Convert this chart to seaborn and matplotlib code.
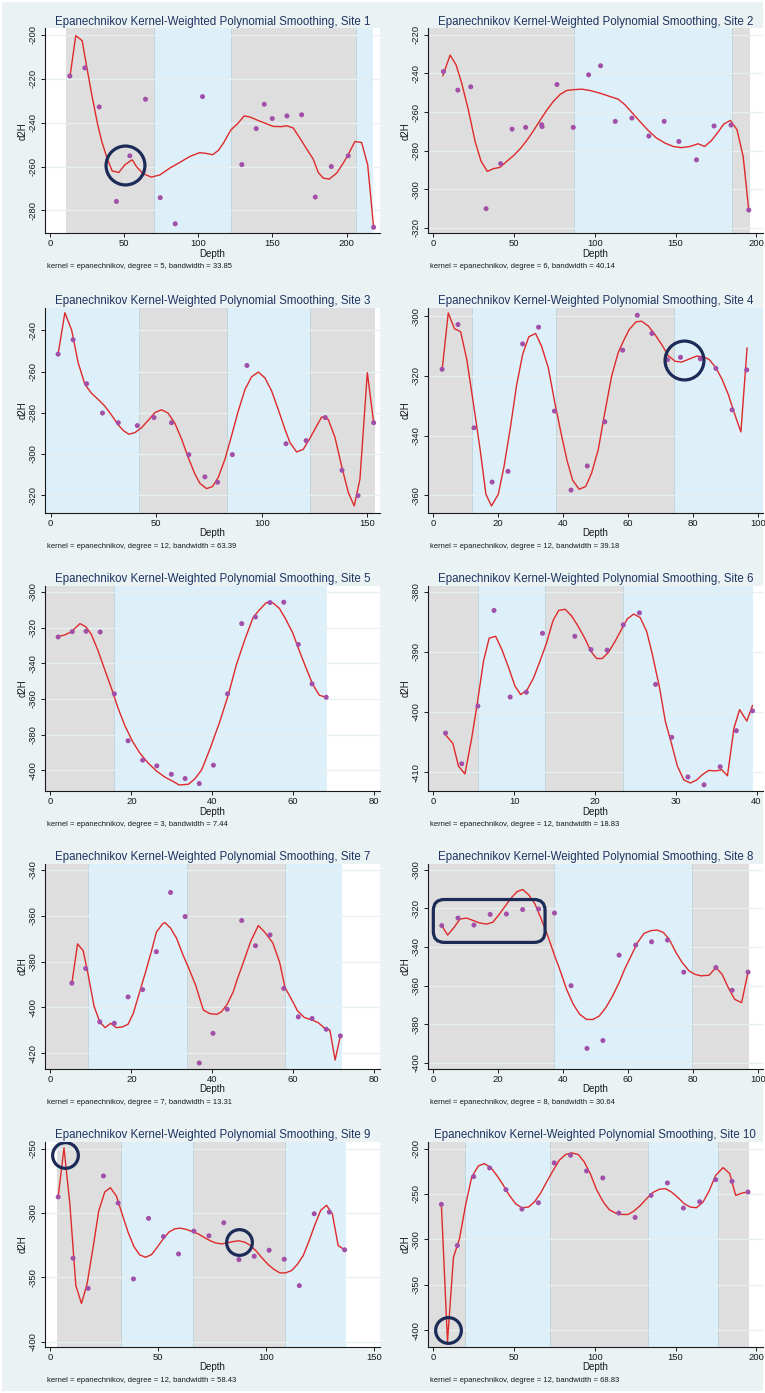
import matplotlib
matplotlib.use("Agg")
import matplotlib.pyplot as plt
import seaborn as sns
from matplotlib.patches import Rectangle, FancyBboxPatch

# ---------------------------------------------------------------- data
TITLE = "Epanechnikov Kernel-Weighted Polynomial Smoothing, Site {}"

# Site 1
S1_X = [13.5, 23.6, 33.3, 44.9, 53.9, 64.5, 74.4, 84.5, 102.9, 129.4, 139.1, 144.5, 149.9, 159.8, 169.7, 178.9, 189.7, 201.1, 218.2]
S1_Y = [-218.7, -215.0, -232.8, -275.9, -255.1, -229.3, -274.2, -286.1, -228.1, -259.1, -242.7, -231.6, -238.1, -236.9, -236.4, -273.9, -260.0, -255.1, -287.7]
S1_FIT_X = [13.5, 17.5, 21.8, 25.0, 28.5, 32.0, 35.0, 38.5, 42.0, 46.5, 50.6, 55.5, 58.4, 62.9, 68.5, 74.2, 80.9, 87.6, 94.4, 100.7, 104.5, 109.7, 113.5, 117.3, 122.0, 126.5, 131.0, 134.8, 140.4, 146.1, 150.6, 156.2, 159.6, 164.0, 168.5, 173.0, 177.5, 180.9, 184.3, 188.3, 193.3, 197.8, 202.2, 205.6, 210.1, 214.2, 218.2]
S1_FIT_Y = [-219.5, -200.3, -202.6, -215.0, -228.0, -240.0, -248.5, -256.0, -262.0, -262.7, -259.2, -256.9, -260.0, -263.3, -264.8, -263.8, -260.7, -258.1, -255.4, -253.7, -253.9, -254.6, -252.7, -249.0, -243.3, -240.5, -236.9, -237.4, -239.0, -240.5, -241.7, -241.8, -241.4, -242.4, -247.0, -251.9, -256.6, -262.7, -265.3, -265.7, -263.0, -258.4, -253.1, -248.6, -249.0, -259.2, -287.7]
S1_BANDS = [11.2, 70.2, 121.9, 206.5, 217.6]
S1_FIRST = "gray"
S1_CAPTION = "kernel = epanechnikov, degree = 5, bandwidth = 33.85"

# Site 2
S2_X = [6.2, 15.1, 23.1, 32.6, 41.6, 48.7, 57.1, 67.0, 67.3, 76.5, 86.6, 96.1, 103.5, 112.6, 122.9, 133.4, 142.9, 152.0, 162.9, 173.8, 184.3, 195.3]
S2_Y = [-239.0, -248.6, -246.9, -310.0, -286.7, -268.8, -267.9, -266.5, -267.5, -245.7, -267.9, -240.7, -236.0, -264.8, -263.1, -272.4, -264.8, -275.2, -284.7, -267.2, -266.7, -310.7]
S2_FIT_X = [5.8, 10.3, 14.0, 17.5, 21.6, 25.8, 29.5, 33.4, 37.1, 41.2, 45.4, 49.5, 53.6, 57.7, 61.9, 66.0, 70.1, 74.2, 78.4, 82.5, 86.6, 91.8, 96.9, 103.1, 109.3, 114.4, 118.6, 122.7, 127.8, 133.0, 138.1, 143.3, 148.5, 153.6, 158.8, 163.9, 168.0, 172.2, 176.3, 179.8, 183.9, 188.0, 191.8, 195.3]
S2_FIT_Y = [-241.2, -230.5, -235.5, -245.0, -258.8, -275.2, -285.5, -290.7, -289.3, -288.6, -285.5, -282.6, -279.1, -274.8, -269.7, -264.3, -259.1, -254.5, -250.9, -248.8, -248.4, -248.1, -248.8, -250.2, -251.9, -253.3, -256.2, -260.0, -264.8, -269.5, -273.4, -276.0, -277.8, -278.4, -277.8, -276.4, -277.8, -274.7, -270.3, -266.2, -264.3, -269.1, -282.9, -310.9]
S2_BANDS = [-3.5, 86.8, 185.0, 195.9]
S2_FIRST = "gray"
S2_CAPTION = "kernel = epanechnikov, degree = 6, bandwidth = 40.14"

# Site 3
S3_X = [3.6, 10.7, 17.1, 24.6, 32.1, 41.1, 49.0, 57.3, 65.5, 73.1, 79.1, 86.1, 93.0, 111.5, 121.0, 130.1, 138.0, 145.6, 153.0]
S3_Y = [-251.5, -244.5, -265.9, -280.1, -284.8, -286.2, -282.3, -284.8, -300.3, -311.1, -313.7, -300.3, -257.0, -295.0, -293.5, -282.3, -307.9, -320.2, -284.8]
S3_FIT_X = [3.6, 6.8, 10.0, 13.1, 16.3, 19.4, 22.6, 25.7, 28.9, 32.1, 34.7, 37.1, 40.0, 43.1, 46.3, 49.4, 52.6, 55.7, 58.9, 62.1, 65.2, 68.4, 70.7, 73.9, 76.7, 79.4, 82.6, 85.7, 88.9, 92.1, 95.2, 98.4, 101.5, 104.7, 107.8, 111.0, 113.4, 116.5, 119.7, 122.8, 126.0, 128.4, 131.5, 134.7, 137.8, 141.0, 143.8, 146.5, 150.0, 153.0]
S3_FIT_Y = [-251.5, -231.4, -239.8, -255.7, -266.2, -270.5, -273.5, -276.7, -281.1, -285.9, -288.8, -290.4, -289.6, -287.2, -283.6, -279.9, -278.5, -280.2, -285.1, -292.8, -301.7, -309.8, -314.2, -316.8, -315.8, -311.4, -302.5, -291.2, -279.1, -268.6, -262.5, -260.2, -263.0, -269.4, -278.3, -288.0, -294.5, -299.0, -297.7, -292.4, -286.4, -282.0, -283.2, -292.0, -305.8, -318.7, -325.2, -312.2, -260.5, -284.8]
S3_BANDS = [-2.7, 42.0, 83.4, 122.8, 153.6]
S3_FIRST = "blue"
S3_CAPTION = "kernel = epanechnikov, degree = 12, bandwidth = 63.39"

# Site 4
S4_X = [2.7, 7.6, 12.5, 18.1, 23.0, 27.5, 32.4, 37.3, 42.4, 47.4, 52.8, 58.3, 62.8, 67.3, 72.1, 76.1, 82.2, 87.0, 92.0, 96.5]
S4_Y = [-317.8, -302.8, -337.4, -355.6, -352.0, -309.3, -303.7, -331.8, -358.3, -350.2, -335.4, -311.4, -299.7, -305.8, -314.6, -313.8, -314.3, -317.5, -331.4, -318.0]
S4_FIT_X = [2.7, 4.6, 6.5, 8.4, 10.3, 12.3, 14.4, 16.2, 17.9, 20.0, 21.8, 23.8, 25.6, 27.5, 29.4, 31.5, 33.3, 35.4, 37.4, 39.5, 41.2, 42.9, 44.9, 46.9, 48.7, 50.8, 52.8, 54.9, 56.9, 58.5, 60.3, 62.4, 64.1, 66.2, 68.2, 70.3, 72.3, 74.4, 76.4, 78.5, 81.0, 83.1, 84.9, 87.0, 88.9, 90.8, 92.8, 94.7, 96.6]
S4_FIT_Y = [-318.1, -298.9, -304.2, -305.2, -314.5, -329.0, -344.6, -359.7, -363.6, -359.7, -350.2, -336.8, -323.4, -312.8, -306.9, -305.8, -310.0, -317.3, -329.0, -340.1, -348.5, -355.0, -358.0, -357.1, -352.7, -344.6, -332.3, -320.1, -312.3, -308.4, -304.5, -301.9, -301.7, -303.3, -306.1, -309.5, -313.2, -315.1, -315.4, -314.5, -313.4, -313.6, -314.5, -317.3, -321.2, -326.2, -332.9, -338.8, -310.6]
S4_BANDS = [-1.7, 12.0, 37.8, 74.2, 101.5]
S4_FIRST = "gray"
S4_CAPTION = "kernel = epanechnikov, degree = 12, bandwidth = 39.18"

# Site 5
S5_X = [1.9, 5.4, 8.8, 12.3, 15.8, 19.2, 22.8, 26.3, 29.9, 33.3, 36.8, 40.3, 43.8, 47.3, 50.7, 54.3, 57.7, 61.3, 64.7, 68.2]
S5_Y = [-325.3, -322.3, -322.1, -322.5, -357.2, -383.5, -394.4, -397.6, -402.3, -404.7, -407.5, -397.2, -357.2, -317.8, -314.1, -306.0, -305.8, -329.5, -351.6, -359.1]
S5_FIT_X = [1.9, 3.5, 5.2, 7.3, 8.7, 10.1, 11.8, 13.4, 15.1, 16.7, 18.4, 20.3, 22.1, 24.2, 26.2, 28.3, 30.4, 31.8, 34.1, 35.7, 37.4, 39.6, 41.9, 44.0, 46.0, 48.1, 50.1, 51.8, 53.4, 54.9, 56.6, 58.2, 59.9, 61.5, 63.2, 64.8, 66.5, 68.2]
S5_FIT_Y = [-325.0, -324.2, -322.3, -317.8, -319.5, -323.8, -333.2, -343.5, -354.2, -365.1, -375.0, -383.9, -390.4, -396.1, -400.4, -403.9, -406.4, -408.3, -407.9, -404.9, -399.8, -387.2, -372.6, -357.6, -340.7, -326.6, -314.4, -309.8, -306.0, -306.0, -309.2, -315.4, -322.9, -332.8, -342.6, -351.6, -358.0, -359.1]
S5_BANDS = [-1.4, 15.75, 68.3]
S5_FIRST = "gray"
S5_CAPTION = "kernel = epanechnikov, degree = 3, bandwidth = 7.44"

# Site 6
S6_X = [1.5, 3.5, 5.5, 7.5, 9.5, 11.5, 13.5, 17.5, 19.5, 21.5, 23.5, 25.5, 27.5, 29.5, 31.5, 33.5, 35.5, 37.5, 39.5]
S6_Y = [-403.5, -408.6, -399.0, -383.1, -397.5, -396.7, -386.9, -387.4, -389.6, -389.7, -385.5, -383.5, -395.4, -404.2, -410.8, -412.1, -409.1, -403.1, -399.8]
S6_FIT_X = [1.5, 2.4, 3.1, 3.9, 4.7, 5.4, 6.2, 6.9, 7.7, 8.5, 9.3, 10.1, 10.8, 11.6, 12.4, 13.2, 14.0, 14.8, 15.5, 16.3, 17.1, 17.9, 18.8, 19.5, 20.2, 20.9, 21.7, 22.5, 23.3, 24.0, 24.8, 25.6, 26.4, 27.1, 28.0, 28.7, 29.5, 30.2, 31.0, 31.8, 32.6, 33.3, 34.1, 34.9, 35.7, 36.4, 37.2, 37.9, 38.8, 39.5]
S6_FIT_Y = [-403.8, -405.2, -409.0, -410.3, -404.6, -398.8, -391.5, -387.7, -387.4, -389.7, -392.6, -395.7, -397.1, -396.3, -394.3, -391.5, -388.5, -384.8, -383.1, -382.9, -384.0, -385.7, -387.9, -389.9, -391.1, -391.1, -390.0, -388.2, -386.2, -384.5, -383.7, -384.3, -386.6, -390.4, -396.0, -401.5, -405.4, -409.0, -411.3, -411.8, -411.3, -410.4, -409.7, -409.8, -409.6, -410.6, -402.7, -399.6, -401.5, -398.9]
S6_BANDS = [-0.7, 5.5, 13.8, 23.5, 39.6]
S6_FIRST = "gray"
S6_CAPTION = "kernel = epanechnikov, degree = 12, bandwidth = 18.83"

# Site 7
S7_X = [5.3, 8.7, 12.2, 15.8, 19.2, 22.8, 26.2, 29.7, 33.3, 36.8, 40.2, 43.7, 47.3, 50.7, 54.3, 57.7, 61.3, 64.7, 68.2, 71.7]
S7_Y = [-389.4, -383.0, -406.3, -406.9, -395.4, -392.2, -375.7, -349.9, -360.4, -424.2, -411.3, -400.8, -362.1, -373.1, -368.4, -391.7, -404.1, -404.8, -409.5, -412.4]
S7_FIT_X = [5.3, 6.7, 8.1, 9.3, 10.8, 12.2, 13.5, 14.9, 16.3, 17.8, 19.2, 20.5, 21.9, 23.5, 25.0, 26.2, 27.7, 28.3, 29.7, 31.2, 32.8, 34.3, 35.9, 37.8, 39.4, 41.1, 42.3, 43.7, 45.2, 46.2, 47.7, 49.5, 51.4, 53.0, 55.0, 56.7, 58.0, 59.6, 61.1, 62.8, 64.6, 66.2, 67.9, 69.1, 70.4, 71.7]
S7_FIT_Y = [-389.4, -372.3, -375.3, -385.5, -399.6, -406.3, -408.8, -406.9, -408.8, -408.5, -407.3, -402.5, -394.2, -384.7, -375.3, -367.2, -363.6, -363.0, -365.4, -369.9, -377.2, -383.3, -390.3, -401.1, -402.7, -403.0, -401.9, -398.6, -393.2, -387.7, -380.4, -371.3, -364.3, -367.2, -371.9, -380.5, -391.3, -396.4, -401.5, -404.4, -405.4, -406.6, -409.2, -409.8, -422.9, -412.4]
S7_BANDS = [-1.4, 9.2, 33.8, 58.0, 72.0]
S7_FIRST = "gray"
S7_CAPTION = "kernel = epanechnikov, degree = 7, bandwidth = 13.31"

# Site 8
S8_X = [2.6, 7.6, 12.5, 17.5, 22.5, 27.5, 32.4, 37.3, 42.4, 47.3, 52.2, 57.2, 62.3, 67.2, 72.1, 77.1, 87.0, 92.0, 96.9]
S8_Y = [-328.9, -325.0, -328.6, -323.1, -322.9, -320.6, -320.3, -322.4, -360.0, -392.5, -388.4, -344.2, -339.0, -337.3, -336.4, -353.0, -350.6, -362.4, -353.0]
S8_FIT_X = [2.6, 4.4, 6.4, 8.2, 10.3, 12.3, 14.4, 16.4, 18.3, 20.0, 22.1, 23.9, 25.8, 27.5, 29.4, 31.3, 33.3, 35.2, 37.1, 39.2, 41.0, 43.1, 45.1, 47.2, 49.2, 51.1, 53.1, 55.2, 57.2, 59.0, 61.0, 62.9, 64.9, 67.0, 68.9, 70.8, 72.6, 74.7, 76.6, 78.7, 80.5, 82.4, 84.9, 87.0, 88.9, 90.8, 92.8, 94.9, 96.9]
S8_FIT_Y = [-328.9, -333.8, -329.8, -325.5, -325.0, -326.3, -327.6, -328.1, -327.2, -323.7, -318.9, -314.7, -311.3, -310.2, -313.0, -317.7, -325.8, -334.1, -343.3, -352.9, -361.8, -369.7, -374.9, -377.5, -377.5, -375.7, -371.4, -365.3, -358.4, -351.1, -344.2, -337.6, -332.9, -331.5, -331.2, -332.4, -335.9, -342.8, -348.0, -352.3, -354.1, -354.9, -354.6, -350.6, -354.1, -361.0, -367.1, -368.8, -353.0]
S8_BANDS = [-1.7, 37.2, 79.5, 97.1]
S8_FIRST = "gray"
S8_CAPTION = "kernel = epanechnikov, degree = 8, bandwidth = 30.64"

# Site 9
S9_X = [3.6, 10.5, 17.5, 24.6, 31.4, 38.5, 45.5, 52.4, 59.4, 66.5, 73.5, 80.4, 87.4, 94.5, 101.4, 108.4, 115.4, 122.3, 129.3, 136.4]
S9_Y = [-287.6, -335.1, -358.5, -271.3, -292.3, -351.2, -304.2, -318.3, -331.8, -314.1, -317.7, -307.6, -336.2, -333.6, -328.9, -335.9, -356.4, -300.6, -299.3, -328.6]
S9_FIT_X = [3.6, 6.3, 9.0, 11.8, 14.4, 17.0, 19.8, 22.4, 25.2, 27.8, 30.6, 33.2, 36.0, 38.7, 41.4, 44.1, 46.9, 49.5, 52.3, 54.9, 57.7, 60.3, 63.1, 65.7, 68.5, 71.1, 73.9, 76.5, 79.3, 81.9, 84.7, 87.4, 90.2, 92.8, 95.6, 98.2, 101.0, 103.6, 106.4, 109.0, 111.8, 114.4, 117.2, 119.8, 122.6, 125.3, 128.0, 130.7, 133.4, 136.4]
S9_FIT_Y = [-287.6, -249.5, -292.8, -356.4, -370.2, -355.1, -326.6, -298.5, -283.7, -280.4, -286.9, -300.6, -314.9, -326.0, -332.5, -334.4, -332.3, -326.6, -320.1, -314.9, -312.3, -311.8, -312.8, -314.4, -316.2, -318.8, -321.4, -323.2, -324.0, -323.2, -322.2, -321.6, -322.7, -325.3, -329.9, -335.1, -340.1, -343.7, -346.5, -346.5, -344.7, -340.1, -333.1, -322.2, -309.2, -298.0, -294.1, -300.6, -325.3, -328.6]
S9_BANDS = [3.1, 32.6, 66.0, 108.7, 136.9]
S9_FIRST = "gray"
S9_CAPTION = "kernel = epanechnikov, degree = 12, bandwidth = 58.43"

# Site 10
S10_X = [4.9, 14.8, 24.9, 34.8, 44.9, 54.8, 65.0, 74.8, 84.9, 94.8, 104.9, 114.8, 124.9, 134.8, 144.9, 154.8, 164.9, 174.8, 184.9, 194.8]
S10_Y = [-261.5, -306.8, -230.9, -221.4, -245.3, -266.7, -259.7, -215.8, -207.4, -224.7, -232.4, -271.1, -275.9, -251.6, -237.9, -265.6, -258.6, -234.3, -236.1, -247.9]
S10_FIT_X = [4.9, 8.7, 12.4, 16.1, 20.0, 23.7, 27.8, 31.5, 35.5, 39.2, 42.9, 47.0, 50.9, 54.6, 58.8, 62.5, 66.4, 70.1, 74.2, 77.9, 81.9, 85.6, 89.7, 93.4, 97.3, 101.0, 105.2, 108.9, 112.8, 116.5, 120.6, 124.1, 128.2, 132.0, 135.7, 139.8, 143.7, 147.4, 151.5, 155.3, 159.2, 162.9, 167.0, 170.7, 174.8, 179.4, 183.5, 187.2, 191.3, 194.8]
S10_FIT_Y = [-261.5, -412.5, -319.7, -299.4, -261.5, -231.3, -219.2, -216.6, -221.0, -229.5, -239.4, -251.6, -260.8, -265.2, -264.5, -258.9, -249.0, -236.8, -223.9, -212.9, -206.6, -204.8, -206.6, -214.7, -228.4, -245.3, -258.9, -267.4, -271.1, -272.6, -272.6, -268.9, -262.6, -255.2, -248.6, -244.9, -244.2, -247.9, -254.1, -260.8, -264.5, -265.2, -258.9, -246.8, -229.5, -221.0, -227.6, -251.6, -249.0, -247.9]
S10_BANDS = [-3.5, 19.6, 72.2, 133.0, 176.3, 195.3]
S10_FIRST = "gray"
S10_CAPTION = "kernel = epanechnikov, degree = 12, bandwidth = 68.83"

# highlighted spots: (site, depth, d2H, diameter in pt)
CIRCLES = [(1, 50.6, -259.2, 28), (4, 77.1, -314.8, 28),
           (9, 6.6, -254.7, 18.5), (9, 87.4, -322.2, 18.5),
           (10, 8.9, -400.0, 18.5)]
# highlighted range on site 8: depth from/to, d2H from/to
BOX8 = (0.0, 34.4, -337.6, -315.4)

# axis ranges and ticks
XLIMS = [(-3.37, 222.5), (-3.5, 204.1), (-2.7, 156.0), (-1.7, 101.5), (-1.4, 81.5),
         (-0.7, 40.8), (-1.4, 81.5), (-1.7, 101.5), (-2.6, 152.8), (-3.5, 204.1)]
YLIMS = [(-290.3, -196.96), (-322.6, -216.6), (-328.4, -229.0), (-365.8, -297.2), (-411.4, -296.6),
         (-413.05, -379.0), (-426.6, -337.4), (-402.9, -296.9), (-403.6, -244.8), (-418.0, -192.6)]
XTICKS = [range(0, 201, 50), range(0, 201, 50), range(0, 151, 50), range(0, 101, 20), range(0, 81, 20),
          range(0, 41, 10), range(0, 81, 20), range(0, 101, 20), range(0, 151, 50), range(0, 201, 50)]
YTICKS = [range(-280, -199, 20), range(-320, -219, 20), range(-320, -239, 20), range(-360, -299, 20),
          range(-400, -299, 20), range(-410, -379, 10), range(-420, -339, 20), range(-400, -299, 20),
          range(-400, -249, 50), range(-400, -199, 50)]

SITES = [
    (S1_X, S1_Y, S1_FIT_X, S1_FIT_Y, S1_BANDS, S1_FIRST, S1_CAPTION),
    (S2_X, S2_Y, S2_FIT_X, S2_FIT_Y, S2_BANDS, S2_FIRST, S2_CAPTION),
    (S3_X, S3_Y, S3_FIT_X, S3_FIT_Y, S3_BANDS, S3_FIRST, S3_CAPTION),
    (S4_X, S4_Y, S4_FIT_X, S4_FIT_Y, S4_BANDS, S4_FIRST, S4_CAPTION),
    (S5_X, S5_Y, S5_FIT_X, S5_FIT_Y, S5_BANDS, S5_FIRST, S5_CAPTION),
    (S6_X, S6_Y, S6_FIT_X, S6_FIT_Y, S6_BANDS, S6_FIRST, S6_CAPTION),
    (S7_X, S7_Y, S7_FIT_X, S7_FIT_Y, S7_BANDS, S7_FIRST, S7_CAPTION),
    (S8_X, S8_Y, S8_FIT_X, S8_FIT_Y, S8_BANDS, S8_FIRST, S8_CAPTION),
    (S9_X, S9_Y, S9_FIT_X, S9_FIT_Y, S9_BANDS, S9_FIRST, S9_CAPTION),
    (S10_X, S10_Y, S10_FIT_X, S10_FIT_Y, S10_BANDS, S10_FIRST, S10_CAPTION),
]

# ---------------------------------------------------------------- style
BG = "#EAF2F4"
GRAY = "#DEDEDE"
BLUE = "#DDEFF9"
EDGE = "#C3D5DC"
GRID = "#E6EFF2"
RED = "#DE2A2A"
PURPLE = "#A24FA8"
NAVY = "#1B2A57"
TITLE_C = "#1E3461"
INK = "#1A1A1A"

sns.set_theme(style="white")
plt.rcParams["font.family"] = ["Liberation Sans", "DejaVu Sans"]

W, H = 765, 1393
fig = plt.figure(figsize=(W / 100, H / 100), dpi=100)
fig.patch.set_facecolor("white")
fig.patches.append(Rectangle((2 / W, 2 / H), (W - 4) / W, (H - 4) / H,
                             transform=fig.transFigure, facecolor=BG,
                             edgecolor="none", zorder=-10))

COL_X = [0, 383]
ROW_Y = [0, 279.5, 557.5, 835.5, 1113.5]
PL, PR, PT, PB = 44.8, 380.0, 28.3, 233.0   # plot region inside one panel, px

for i, (xs, ys, fx, fy, bands, first, caption) in enumerate(SITES):
    site = i + 1
    x0 = COL_X[i % 2]
    y0 = ROW_Y[i // 2]
    ax = fig.add_axes([(x0 + PL) / W, 1 - (y0 + PB) / H, (PR - PL) / W, (PB - PT) / H])
    ax.set_facecolor("white")
    xlim, ylim = XLIMS[i], YLIMS[i]

    # alternating shaded depth intervals
    colors = [GRAY, BLUE] if first == "gray" else [BLUE, GRAY]
    for k in range(len(bands) - 1):
        ax.axvspan(bands[k], bands[k + 1], color=colors[k % 2], lw=0, zorder=0.2)
    for b in bands[1:-1]:
        ax.axvline(b, color=EDGE, lw=0.7, zorder=0.3)

    sns.lineplot(x=fx, y=fy, ax=ax, color=RED, lw=1.0, sort=False,
                 estimator=None, zorder=3)
    sns.scatterplot(x=xs, y=ys, ax=ax, color=PURPLE, s=13, edgecolor="none",
                    linewidth=0, zorder=4)

    for (s, cx, cy, d) in CIRCLES:
        if s == site:
            ax.plot([cx], [cy], marker="o", ms=d, mfc="none", mec=NAVY, mew=2.3,
                    ls="none", zorder=5)

    ax.set_xlim(*xlim)
    ax.set_ylim(*ylim)

    if site == 8:
        bx0, bx1, by0, by1 = BOX8
        ax_w = (PR - PL)
        ax_h = (PB - PT)
        xu = (xlim[1] - xlim[0]) / ax_w
        yu = (ylim[1] - ylim[0]) / ax_h
        box = FancyBboxPatch((bx0, by0), bx1 - bx0, by1 - by0,
                             boxstyle="round,pad=0,rounding_size=%f" % (11 * xu),
                             mutation_aspect=yu / xu, transform=ax.transData,
                             facecolor="none", edgecolor=NAVY, lw=2.3, zorder=5)
        ax.add_patch(box)

    ax.set_axisbelow(True)
    ax.yaxis.grid(True, color=GRID, lw=0.9)
    ax.xaxis.grid(False)
    for sp in ("top", "right"):
        ax.spines[sp].set_visible(False)
    for sp in ("left", "bottom"):
        ax.spines[sp].set_color(INK)
        ax.spines[sp].set_linewidth(0.8)

    xt = list(XTICKS[i])
    yt = list(YTICKS[i])
    ax.set_xticks(xt, labels=[str(v) for v in xt])
    ax.set_yticks(yt, labels=[str(v) for v in yt])
    ax.tick_params(axis="both", direction="out", length=3, width=0.7,
                   color=INK, labelcolor=INK, labelsize=6.8, left=True, bottom=True)
    ax.tick_params(axis="x", pad=1.5)
    ax.tick_params(axis="y", pad=2.0)
    for t in ax.get_yticklabels():
        t.set_rotation(90)
        t.set_va("center")

    ax.set_xlabel("Depth", fontsize=7, color=INK, va="center")
    ax.xaxis.set_label_coords(0.5, -(254 - PB + PT - PT) / (PB - PT) + 0.0)
    ax.xaxis.set_label_coords(0.5, -(254 - PB) / (PB - PT))
    ax.set_ylabel("d2H", fontsize=7, color=INK, va="center")
    ax.yaxis.set_label_coords(-(PL - 23) / (PR - PL), 0.5)

    ax.text(0.5, 1 + (PT - 21.7) / (PB - PT), TITLE.format(site),
            transform=ax.transAxes, ha="center", va="center",
            fontsize=8.3, color=TITLE_C)
    ax.text((46.7 - PL) / (PR - PL), -(266.7 - PB) / (PB - PT), caption,
            transform=ax.transAxes, ha="left", va="center", fontsize=5.5, color=INK)

fig.savefig("out.png", dpi=100, facecolor=fig.get_facecolor())
